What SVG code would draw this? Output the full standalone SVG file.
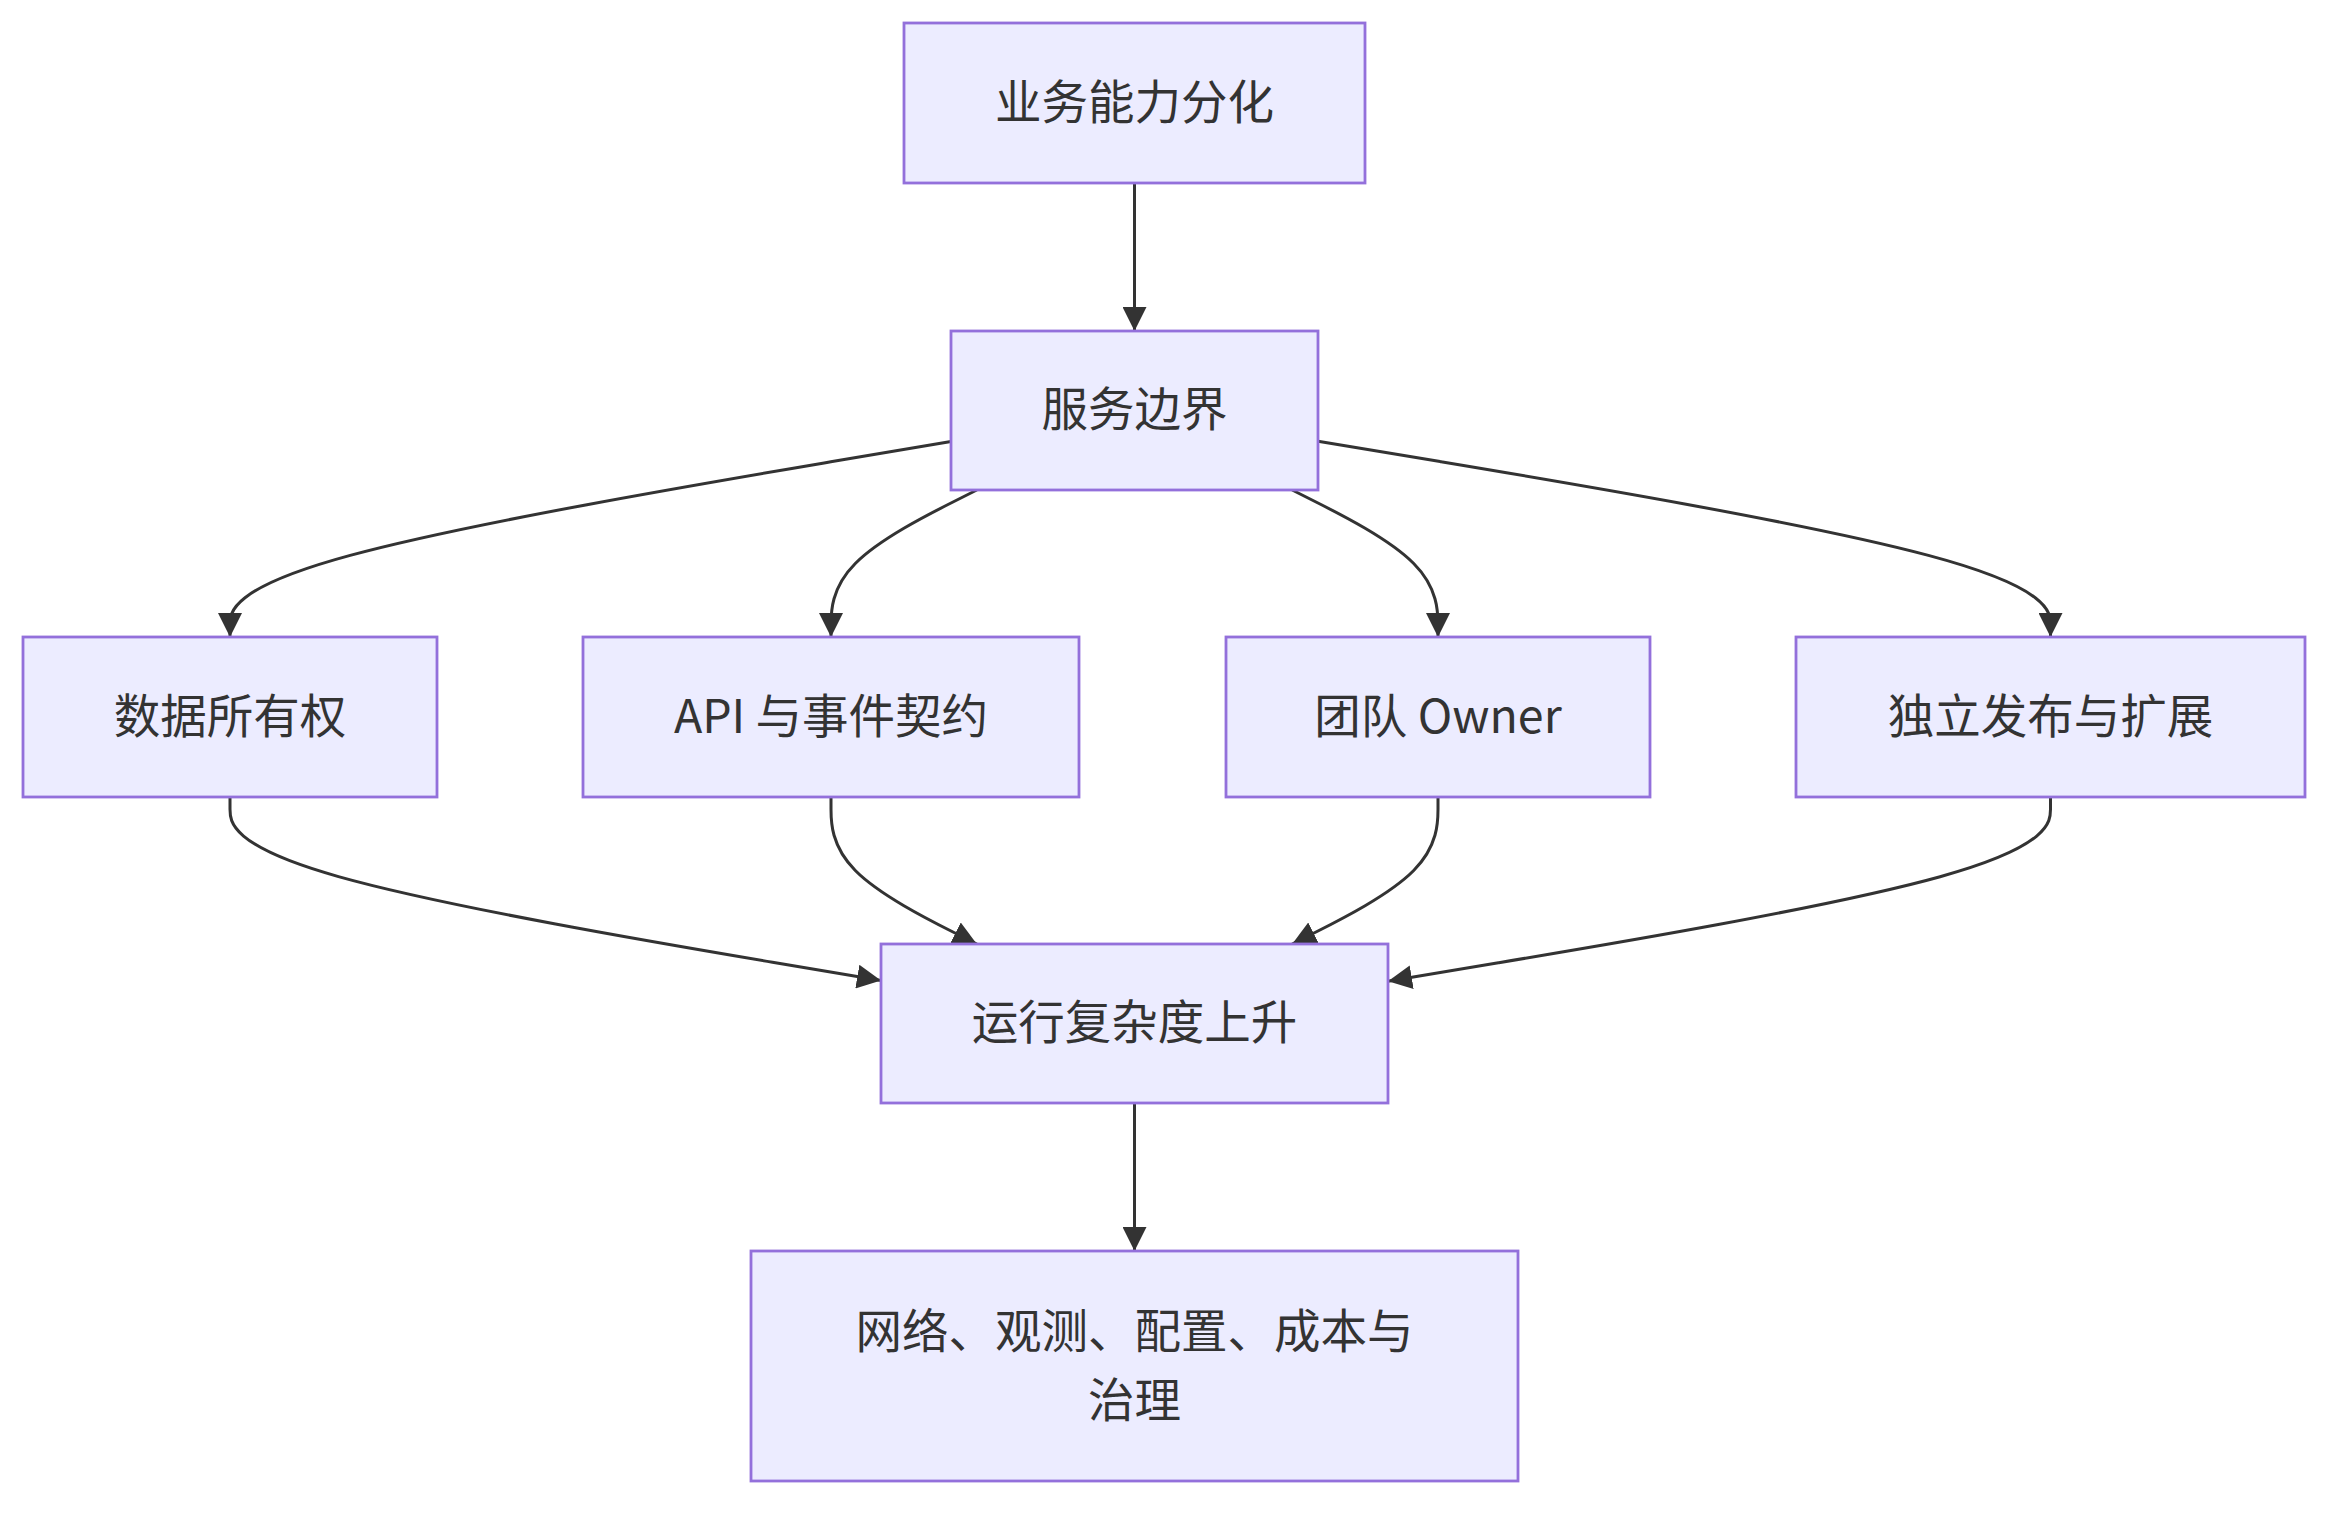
<svg xmlns="http://www.w3.org/2000/svg" width="2352" height="1521" viewBox="0 0 2352 1521">
<style>
.node rect{fill:#ECECFF;stroke:#9370DB;stroke-width:2.8}
.node text{font-family:"Noto Sans CJK SC","Noto Sans",sans-serif;font-size:46.5px;fill:#333333;text-anchor:middle;dominant-baseline:central}
.edge{fill:none;stroke:#333333;stroke-width:3;marker-end:url(#arrow)}
</style>
<defs>
<marker id="arrow" viewBox="0 0 10 10" refX="10" refY="5" markerUnits="userSpaceOnUse" markerWidth="24" markerHeight="24" orient="auto">
<path d="M0,0 L10,5 L0,10 z" fill="#333333"/>
</marker>
</defs>
<rect width="2352" height="1521" fill="#ffffff"/>
<g id="edges">
<path class="edge" d="M1134.5,183 L1134.5,331"/>
<path class="edge" d="M951,441.5 L830.8,461.8 C710.7,482.2 470.3,522.8 350.2,555.4 C230,588 230,612.5 230,624.75 L230,637"/>
<path class="edge" d="M976.8,490 L952.5,502.25 C928.2,514.5 879.6,539 855.3,563.5 C831,588 831,612.5 831,624.75 L831,637"/>
<path class="edge" d="M1292.2,490 L1316.5,502.25 C1340.8,514.5 1389.4,539 1413.7,563.5 C1438,588 1438,612.5 1438,624.75 L1438,637"/>
<path class="edge" d="M1318,441.2 L1440.1,461.6 C1562.2,482 1806.3,522.7 1928.4,555.4 C2050.5,588 2050.5,612.5 2050.5,624.75 L2050.5,637"/>
<path class="edge" d="M230,797 L230,809.25 C230,821.5 230,846 338.5,876.6 C447,907.2 664,943.9 772.5,962.25 L881,980.6"/>
<path class="edge" d="M831,797 L831,809.25 C831,821.5 831,846 855.3,870.5 C879.6,895 928.2,919.5 952.5,931.75 L976.8,944"/>
<path class="edge" d="M1438,797 L1438,809.25 C1438,821.5 1438,846 1413.7,870.5 C1389.4,895 1340.8,919.5 1316.5,931.75 L1292.2,944"/>
<path class="edge" d="M2050.5,797 L2050.5,809.25 C2050.5,821.5 2050.5,846 1940.1,876.7 C1829.7,907.4 1608.8,944.3 1498.4,962.75 L1388,981.2"/>
<path class="edge" d="M1134.5,1103 L1134.5,1251"/>
</g>
<g id="n1" class="node"><rect x="904" y="23" width="461" height="160"/><text x="1134.5" y="98">业务能力分化</text></g>
<g id="n2" class="node"><rect x="951" y="331" width="367" height="159"/><text x="1134.5" y="405.5">服务边界</text></g>
<g id="n3" class="node"><rect x="23" y="637" width="414" height="160"/><text x="230" y="712">数据所有权</text></g>
<g id="n4" class="node"><rect x="583" y="637" width="496" height="160"/><text x="831" y="712">API 与事件契约</text></g>
<g id="n5" class="node"><rect x="1226" y="637" width="424" height="160"/><text x="1438" y="712">团队 Owner</text></g>
<g id="n6" class="node"><rect x="1796" y="637" width="509" height="160"/><text x="2050.5" y="712">独立发布与扩展</text></g>
<g id="n7" class="node"><rect x="881" y="944" width="507" height="159"/><text x="1134.5" y="1018.5">运行复杂度上升</text></g>
<g id="n8" class="node"><rect x="751" y="1251" width="767" height="230"/><text x="1134.5" y="1327">网络、观测、配置、成本与</text><text x="1134.5" y="1396">治理</text></g>
</svg>
